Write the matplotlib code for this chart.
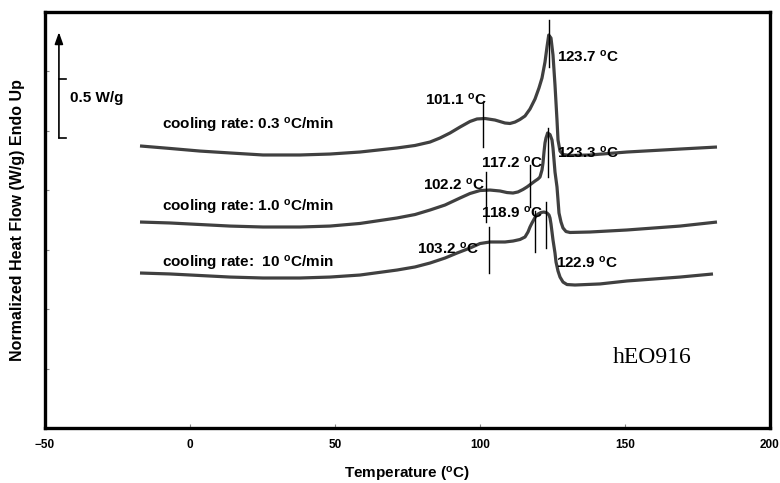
import matplotlib
matplotlib.use('Agg')
import matplotlib.pyplot as plt
import numpy as np

plt.rcParams['font.family'] = ['Liberation Sans', 'DejaVu Sans']
plt.rcParams['font.weight'] = 'bold'
plt.rcParams['mathtext.fontset'] = 'custom'
plt.rcParams['mathtext.rm'] = 'Liberation Sans:bold'
plt.rcParams['mathtext.it'] = 'Liberation Sans:bold'
plt.rcParams['mathtext.bf'] = 'Liberation Sans:bold'

# DSC cooling traces, temperature (C) vs heat flow (W/g, offset per trace)
t_03 = [-17.24, -6.90, 3.45, 13.79, 25.17, 37.93, 48.28, 58.62, 71.38, 77.59,
        82.76, 86.21, 89.66, 93.10, 96.55, 98.97, 101.72, 105.17, 108.62,
        110.34, 112.07, 113.79, 115.52, 117.24, 118.97, 120.34, 121.38, 122.41,
        123.10, 123.7, 124.48, 125.17, 125.86, 126.55, 126.90, 127.59, 128.62,
        131.03, 137.93, 150.69, 168.97, 181.72]
hf_03 = [2.373, 2.352, 2.330, 2.314, 2.297, 2.297, 2.305, 2.322, 2.356, 2.377,
         2.406, 2.440, 2.482, 2.532, 2.579, 2.600, 2.604, 2.591, 2.566, 2.562,
         2.574, 2.596, 2.625, 2.684, 2.768, 2.861, 2.945, 3.079, 3.205, 3.306,
         3.281, 3.138, 2.886, 2.591, 2.423, 2.330, 2.301, 2.293, 2.297, 2.322,
         2.347, 2.364]

t_10 = [-17.24, -6.90, 3.45, 13.79, 25.17, 37.93, 48.28, 58.62, 71.38, 77.59,
        82.76, 87.93, 93.10, 96.55, 100.00, 103.45, 106.90, 109.31, 111.38,
        113.10, 114.83, 116.21, 117.59, 118.97, 120.00, 120.69, 121.38, 121.72,
        122.07, 122.41, 122.76, 123.10, 123.3, 124.14, 124.83, 125.17, 125.52,
        125.86, 126.55, 126.90, 127.24, 127.93, 128.62, 129.66, 131.03, 137.93,
        150.69, 168.97, 181.72]
hf_10 = [1.733, 1.725, 1.712, 1.699, 1.691, 1.691, 1.699, 1.721, 1.767, 1.796,
         1.834, 1.876, 1.935, 1.973, 1.998, 2.002, 1.994, 1.981, 1.977, 1.986,
         2.007, 2.028, 2.053, 2.078, 2.095, 2.112, 2.171, 2.230, 2.322, 2.398,
         2.440, 2.465, 2.482, 2.469, 2.423, 2.356, 2.255, 2.154, 2.028, 1.918,
         1.809, 1.733, 1.683, 1.653, 1.645, 1.649, 1.666, 1.699, 1.733]

t_100 = [-17.24, -6.90, 3.45, 13.79, 25.17, 37.93, 48.28, 58.62, 71.38, 77.59,
         82.76, 87.93, 92.07, 96.55, 100.00, 103.45, 108.62, 111.38, 113.79,
         115.52, 116.55, 117.24, 117.93, 118.97, 120.00, 121.03, 122.07, 123.10,
         123.79, 124.14, 124.48, 124.83, 125.17, 125.86, 126.21, 126.90, 127.59,
         128.62, 130.00, 132.76, 141.38, 150.69, 168.97, 180.34]
hf_100 = [1.304, 1.296, 1.283, 1.270, 1.262, 1.262, 1.270, 1.287, 1.329, 1.355,
          1.388, 1.430, 1.472, 1.514, 1.552, 1.565, 1.565, 1.573, 1.586, 1.607,
          1.649, 1.691, 1.725, 1.771, 1.800, 1.813, 1.817, 1.809, 1.792, 1.767,
          1.716, 1.649, 1.582, 1.472, 1.397, 1.321, 1.270, 1.228, 1.207, 1.203,
          1.212, 1.237, 1.270, 1.296]

# peak / shoulder temperatures marked on each trace
peaks_03 = [101.1, 123.7]
peaks_10 = [102.2, 117.2, 123.3]
peaks_100 = [103.2, 118.9, 122.9]

rate_labels = [r'cooling rate: 0.3 $^\mathrm{o}$C/min',
               r'cooling rate: 1.0 $^\mathrm{o}$C/min',
               r'cooling rate:  10 $^\mathrm{o}$C/min']

# (y from, y to) of each marker line and where its text sits
marker_span = {101.1: (2.364, 2.743), 123.7: (3.037, 3.433),
               102.2: (1.733, 2.154), 117.2: (1.859, 2.213),
               123.3: (2.112, 2.524), 103.2: (1.304, 1.691),
               118.9: (1.481, 1.826), 122.9: (1.514, 1.901)}
marker_text = {101.1: (81.0, 2.760), 123.7: (126.6, 3.121),
               102.2: (80.3, 2.044), 117.2: (100.3, 2.230),
               123.3: (126.6, 2.314), 103.2: (78.3, 1.506),
               118.9: (100.3, 1.809), 122.9: (126.2, 1.388)}

fig = plt.figure(figsize=(7.8, 4.83), dpi=100)
ax = fig.add_axes([45/780, 55/483, 725/780, 416/483])

line_kw = dict(color='#404040', lw=2.3, solid_joinstyle='round',
               solid_capstyle='butt')
ax.plot(t_03, hf_03, **line_kw)
ax.plot(t_10, hf_10, **line_kw)
ax.plot(t_100, hf_100, **line_kw)

for tp in peaks_03 + peaks_10 + peaks_100:
    y0, y1 = marker_span[tp]
    ax.plot([tp, tp], [y0, y1], color='k', lw=1.0)
    tx, ty = marker_text[tp]
    ax.text(tx, ty, f'{tp:.1f} ' + r'$^\mathrm{o}$C', fontsize=11,
            fontweight='bold', ha='left', va='center')

for lab, ty in zip(rate_labels, [2.549, 1.851, 1.388]):
    ax.text(-9.7, ty, lab, fontsize=11, fontweight='bold',
            ha='left', va='center')

# 0.5 W/g scale bar
sx, sy0, sy1 = -45.2, 2.44, 2.94
ax.annotate('', xy=(sx, 3.33), xytext=(sx, sy0),
            arrowprops=dict(arrowstyle='-|>,head_length=0.7,head_width=0.25',
                            color='k', lw=1.2, shrinkA=0, shrinkB=0))
for yy in (sy0, sy1):
    ax.plot([sx, sx + 2.4], [yy, yy], color='k', lw=1.2)
ax.text(-41.4, 2.776, '0.5 W/g', fontsize=11, fontweight='bold',
        ha='left', va='center')

ax.text(145.9, 0.597, 'hEO916', fontsize=17, fontweight='normal',
        family='Liberation Serif', ha='left', va='center')

ax.set_xlim(-50, 200)
ax.set_ylim(0, 3.5)
ax.set_xticks(np.arange(-50, 201, 50))
ax.set_yticks(np.arange(0, 3.51, 0.5))
ax.set_yticklabels([])
ax.tick_params(axis='both', direction='in', length=3, width=0.8, color='#888888')
ax.tick_params(axis='x', labelsize=8.5, pad=8)
for lab in ax.get_xticklabels():
    lab.set_fontweight('bold')
for sp in ax.spines.values():
    sp.set_linewidth(2.4)

ax.set_xlabel(r'Temperature ($^\mathrm{o}$C)', fontsize=11, fontweight='bold',
              va='center')
ax.xaxis.set_label_coords(0.5, -0.111)
ax.set_ylabel('Normalized Heat Flow (W/g) Endo Up', fontsize=11.5,
              fontweight='bold', va='center')
ax.yaxis.set_label_coords(-0.0386, 0.5)

fig.savefig('out.png', dpi=100)
